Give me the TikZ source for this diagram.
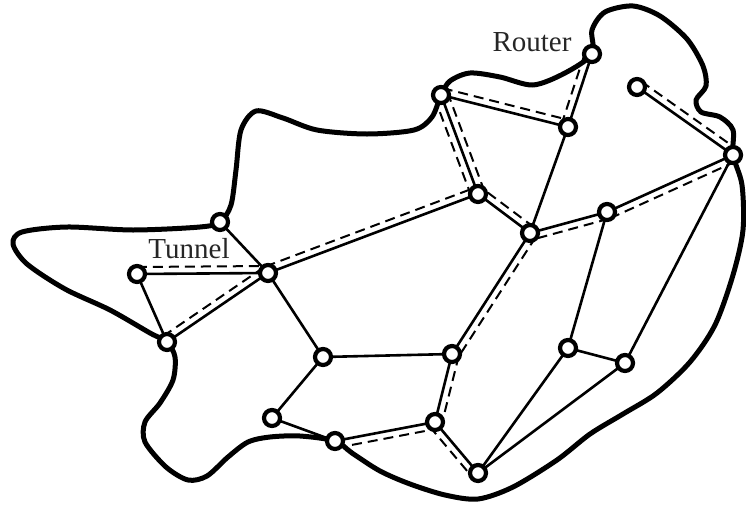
\documentclass[tikz,border=0pt]{standalone}
\usepackage{fontspec}
\setmainfont{Liberation Serif}
\usetikzlibrary{calc}
\pgfdeclarelayer{links}
\pgfsetlayers{links,main}
\tikzset{
  router/.style={circle, draw, line width=4.2pt, fill=white, inner sep=0pt, minimum size=16pt},
  link/.style={line width=2.6pt},
  tunnel/.style={line width=2pt, dash pattern=on 10pt off 6pt},
  region/.style={line width=5pt, line join=round},
  lbl/.style={font=\fontsize{29}{29}\selectfont, text=black!85, inner sep=0pt}
}
% dashed tunnel drawn parallel to the link #1--#2, offset by #3
\newcommand\tunnelpath[3]{\draw[tunnel] ($(#1.center)!#3!90:(#2.center)$) -- ($(#2.center)!#3!-90:(#1.center)$);}
\begin{document}
\begin{tikzpicture}[x=1pt, y=-1pt]
\useasboundingbox (0,0) rectangle (746,506);

% routers
\node[router] (A) at (220,222) {};
\node[router] (B) at (137,274) {};
\node[router] (C) at (268,273) {};
\node[router] (D) at (167,342) {};
\node[router] (E) at (323,357) {};
\node[router] (F) at (452,354) {};
\node[router] (G) at (272,418) {};
\node[router] (H) at (335,441) {};
\node[router] (I) at (435,422) {};
\node[router] (J) at (478,473) {};
\node[router] (K) at (568,348) {};
\node[router] (L) at (625,363) {};
\node[router] (M) at (478,194) {};
\node[router] (N) at (530,233) {};
\node[router] (O) at (607,212) {};
\node[router] (P) at (441,95) {};
\node[router] (Q) at (568,127) {};
\node[router] (R) at (592,54) {};
\node[router] (S) at (637,87) {};
\node[router] (T) at (733,155) {};

% labels
\node[lbl] (routerlabel) at (532,42) {Router};
\node[lbl] (tunnellabel) at (189,249) {Tunnel};

\begin{pgfonlayer}{links}
% region outline
\draw[region] plot[smooth cycle, tension=0.5] coordinates {
  (220,222) (231,205) (236,170) (241,130) (256,111) (283,118) (317,130)
  (367,134) (414,130) (432,117) (441,95) (450,81) (470,73) (500,77)
  (533,85) (565,73) (592,54) (592,30) (605,12) (633,6) (660,16) (687,39)
  (703,66) (706,86) (696,100) (701,112) (720,117) (733,130) (733,155)
  (742,185) (743,230) (733,275) (715,325) (690,362) (657,393) (623,414)
  (590,434) (557,460) (513,487) (478,499) (445,495) (410,484) (380,471)
  (352,453) (335,441) (300,436) (270,437) (248,442) (228,457) (207,476)
  (188,480) (166,467) (145,442) (145,422) (160,403) (173,380) (175,357)
  (167,342) (150,333) (110,310) (65,289) (27,264) (13,244) (22,232)
  (67,227) (133,230) (200,227)
};

% links
\draw[link] (A.center) -- (C.center);
\draw[link] (B.center) -- (C.center);
\draw[link] (B.center) -- (D.center);
\draw[link] (D.center) -- (C.center);
\draw[link] (C.center) -- (M.center);
\draw[link] (C.center) -- (E.center);
\draw[link] (E.center) -- (F.center);
\draw[link] (E.center) -- (G.center);
\draw[link] (G.center) -- (H.center);
\draw[link] (H.center) -- (I.center);
\draw[link] (F.center) -- (I.center);
\draw[link] (I.center) -- (J.center);
\draw[link] (F.center) -- (N.center);
\draw[link] (J.center) -- (K.center);
\draw[link] (J.center) -- (L.center);
\draw[link] (K.center) -- (L.center);
\draw[link] (K.center) -- (O.center);
\draw[link] (L.center) -- (T.center);
\draw[link] (N.center) -- (O.center);
\draw[link] (O.center) -- (T.center);
\draw[link] (N.center) -- (Q.center);
\draw[link] (N.center) -- (M.center);
\draw[link] (M.center) -- (P.center);
\draw[link] (P.center) -- (Q.center);
\draw[link] (Q.center) -- (R.center);
\draw[link] (S.center) -- (T.center);

% tunnels
\tunnelpath{B}{C}{7pt}
\tunnelpath{D}{C}{7pt}
\tunnelpath{C}{M}{7pt}
\tunnelpath{M}{P}{7pt}
\tunnelpath{M}{P}{-7pt}
\tunnelpath{P}{Q}{7pt}
\tunnelpath{Q}{R}{7pt}
\tunnelpath{S}{T}{7pt}
\tunnelpath{T}{O}{7pt}
\tunnelpath{O}{N}{7pt}
\tunnelpath{N}{M}{-7pt}
\tunnelpath{N}{F}{7pt}
\tunnelpath{F}{I}{7pt}
\tunnelpath{I}{J}{-7pt}
\tunnelpath{H}{I}{-7pt}
\end{pgfonlayer}
\end{tikzpicture}
\end{document}
